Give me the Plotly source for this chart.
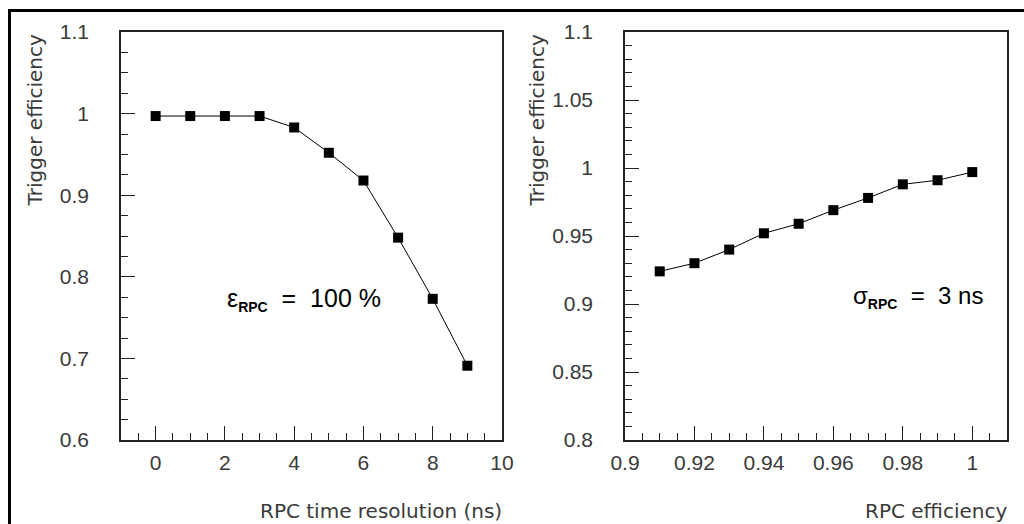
import plotly.graph_objects as go
from plotly.subplots import make_subplots

# Left panel: trigger efficiency vs RPC time resolution
time_res = [0, 1, 2, 3, 4, 5, 6, 7, 8, 9]
trig_eff_time = [0.997, 0.997, 0.997, 0.997, 0.983, 0.952, 0.918, 0.848, 0.773, 0.691]

# Right panel: trigger efficiency vs RPC efficiency
rpc_eff = [0.91, 0.92, 0.93, 0.94, 0.95, 0.96, 0.97, 0.98, 0.99, 1.00]
trig_eff_rpc = [0.924, 0.930, 0.940, 0.952, 0.959, 0.969, 0.978, 0.988, 0.991, 0.997]

W, H = 1024, 524
FONT = "Liberation Sans"
TITLE_FONT = "DejaVu Sans"
TICK_COLOR = "#3a3a3a"

fig = make_subplots(rows=1, cols=2)

marker = dict(symbol="square", size=10, color="black")
line = dict(color="black", width=1)

fig.add_trace(go.Scatter(x=time_res, y=trig_eff_time, mode="lines+markers",
                         marker=marker, line=line, showlegend=False), row=1, col=1)
fig.add_trace(go.Scatter(x=rpc_eff, y=trig_eff_rpc, mode="lines+markers",
                         marker=marker, line=line, showlegend=False), row=1, col=2)

ybot = 1 - 440 / H
ytop = 1 - 32 / H

common_axis = dict(
    showgrid=False, zeroline=False, showline=True, mirror=True, automargin=False,
    linecolor="#222222", linewidth=1.5,
    ticks="inside", ticklen=14, tickwidth=1, tickcolor="#222222",
    tickfont=dict(family=FONT, size=21, color=TICK_COLOR),
)

fig.update_xaxes(common_axis)
fig.update_yaxes(common_axis)

fig.update_xaxes(row=1, col=1, domain=[121 / W, 502 / W], range=[-1, 10],
                 tick0=0, dtick=2,
                 minor=dict(ticks="inside", ticklen=7, dtick=0.5, tick0=0, tickcolor="#222222"),
                 ticklabelstandoff=3)
fig.update_yaxes(row=1, col=1, domain=[ybot, ytop], range=[0.6, 1.1],
                 tick0=0.6, dtick=0.1,
                 minor=dict(ticks="inside", ticklen=7, dtick=0.025, tick0=0.6, tickcolor="#222222"),
                 ticklabelstandoff=26)
fig.update_xaxes(row=1, col=2, domain=[625 / W, 1007 / W], range=[0.9, 1.01],
                 tick0=0.9, dtick=0.02,
                 minor=dict(ticks="inside", ticklen=7, dtick=0.005, tick0=0.9, tickcolor="#222222"),
                 ticklabelstandoff=3)
fig.update_yaxes(row=1, col=2, domain=[ybot, ytop], range=[0.8, 1.1],
                 tick0=0.8, dtick=0.05,
                 minor=dict(ticks="inside", ticklen=7, dtick=0.01, tick0=0.8, tickcolor="#222222"),
                 ticklabelstandoff=26)

title_font = dict(family=TITLE_FONT, size=20, color=TICK_COLOR)
sub = "<sub><span style='font-size:14px'><b>RPC</b></span></sub>"
annotations = [
    dict(text="Trigger efficiency", xref="paper", yref="paper", x=34 / W, y=ytop,
         xanchor="center", yanchor="top", textangle=-90, showarrow=False, font=title_font),
    dict(text="Trigger efficiency", xref="paper", yref="paper", x=536 / W, y=ytop,
         xanchor="center", yanchor="top", textangle=-90, showarrow=False, font=title_font),
    dict(text="RPC time resolution (ns)", xref="paper", yref="paper", x=503 / W, y=0,
         xanchor="right", yanchor="bottom", borderpad=0, showarrow=False, font=title_font),
    dict(text="RPC efficiency", xref="paper", yref="paper", x=1008 / W, y=0,
         xanchor="right", yanchor="bottom", borderpad=0, showarrow=False, font=title_font),
    dict(text="ε" + sub + "  =  100 %", xref="x", yref="y", x=2.0, y=0.772,
         xanchor="left", yanchor="middle", showarrow=False,
         font=dict(family=FONT, size=25, color="black")),
    dict(text="σ" + sub + "  =  3 ns", xref="x2", yref="y2", x=0.9650, y=0.905,
         xanchor="left", yanchor="middle", showarrow=False,
         font=dict(family=FONT, size=24, color="black")),
]

shapes = [
    dict(type="line", xref="paper", yref="paper", x0=8 / W, x1=1, y0=1 - 10.5 / H, y1=1 - 10.5 / H,
         line=dict(color="black", width=3)),
    dict(type="line", xref="paper", yref="paper", x0=9.5 / W, x1=9.5 / W, y0=0, y1=1 - 9 / H,
         line=dict(color="black", width=3)),
]

fig.update_layout(
    template="none",
    width=W, height=H,
    margin=dict(l=0, r=0, t=0, b=0, pad=0, autoexpand=False),
    paper_bgcolor="white", plot_bgcolor="white",
    annotations=annotations, shapes=shapes,
    font=dict(family=FONT),
)

fig.write_html("out.html", config={"displayModeBar": False},
               post_script="document.body.style.margin='0';document.body.style.overflow='hidden';")
